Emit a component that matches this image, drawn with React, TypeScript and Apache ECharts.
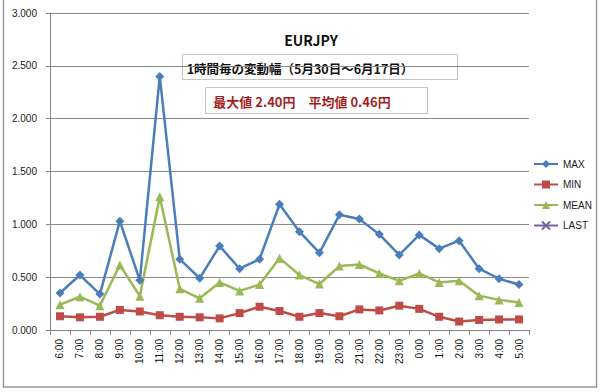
import React, { useEffect, useRef } from "react";
import * as echarts from "echarts";

const hours = ["6:00","7:00","8:00","9:00","10:00","11:00","12:00","13:00","14:00","15:00","16:00","17:00","18:00","19:00","20:00","21:00","22:00","23:00","0:00","1:00","2:00","3:00","4:00","5:00"];
const maxVals = [0.35,0.52,0.34,1.03,0.47,2.40,0.67,0.49,0.795,0.58,0.67,1.19,0.93,0.73,1.09,1.05,0.905,0.71,0.90,0.77,0.845,0.58,0.485,0.43];
const minVals = [0.13,0.12,0.125,0.19,0.175,0.14,0.125,0.12,0.11,0.16,0.22,0.18,0.125,0.16,0.13,0.195,0.185,0.23,0.20,0.125,0.08,0.095,0.10,0.10];
const meanVals = [0.24,0.315,0.23,0.615,0.32,1.26,0.39,0.30,0.45,0.37,0.43,0.68,0.52,0.435,0.605,0.62,0.535,0.465,0.535,0.45,0.465,0.325,0.285,0.26];
const lastVals: (number | null)[] = [];
const yTicks = { min: 0, max: 3, interval: 0.5 };

const titleText = "EURJPY";
const subText = "1時間毎の変動幅（5月30日～6月17日）";
const statText = "最大値 2.40円　平均値 0.46円";

const FONT = "'Noto Sans CJK JP', 'Noto Sans', sans-serif";
const LFONT = "'Liberation Sans', Arial, sans-serif";

export default function App() {
  const ref = useRef<HTMLDivElement>(null);
  useEffect(() => {
    if (!ref.current) return;
    const chart = echarts.init(ref.current, null, { renderer: "svg" });
    const mk = (name: string, data: (number | null)[], color: string, symbol: string, size: number) => ({
      name,
      type: "line",
      data,
      symbol,
      symbolSize: size,
      showAllSymbol: true,
      lineStyle: { color, width: 2.5 },
      itemStyle: { color, borderColor: color, borderWidth: symbol.startsWith("path") ? 1.5 : 0 },
    });
    chart.setOption({
      animation: false,
      backgroundColor: "#ffffff",
      textStyle: { fontFamily: FONT },
      grid: { left: 50, right: 71, top: 13, bottom: 62, containLabel: false },
      legend: {
        orient: "vertical",
        left: 528,
        top: 154,
        itemWidth: 24,
        itemHeight: 10,
        itemGap: 10.5,
        textStyle: { fontSize: 10, color: "#222", fontFamily: LFONT },
        data: ["MAX", "MIN", "MEAN", "LAST"],
      },
      xAxis: {
        type: "category",
        data: hours,
        boundaryGap: true,
        axisLine: { lineStyle: { color: "#868686", width: 1 } },
        axisTick: { show: true, length: 5, lineStyle: { color: "#868686" } },
        axisLabel: { rotate: 90, fontSize: 10, color: "#111", margin: 9, interval: 0, fontFamily: LFONT },
      },
      yAxis: {
        type: "value",
        min: yTicks.min,
        max: yTicks.max,
        interval: yTicks.interval,
        axisLine: { show: true, lineStyle: { color: "#868686", width: 1 } },
        axisTick: { show: true, length: 4, lineStyle: { color: "#868686" } },
        splitLine: { lineStyle: { color: "#8a8a8a", width: 1 } },
        axisLabel: {
          fontSize: 10,
          color: "#222",
          margin: 13,
          fontFamily: LFONT,
          formatter: (v: number) => v.toFixed(3),
        },
      },
      series: [
        mk("MAX", maxVals, "#4A7EBB", "diamond", 9),
        mk("MIN", minVals, "#BE4B48", "rect", 8),
        mk("MEAN", meanVals, "#98B954", "triangle", 9),
        mk("LAST", lastVals, "#7D60A0", "path://M0,0L10,10M10,0L0,10", 8),
      ],
      graphic: [
        {
          type: "rect",
          shape: { x: 3.5, y: -2, width: 593, height: 389 },
          style: { fill: "none", stroke: "#9a9a9a", lineWidth: 1.5 },
          silent: true,
        },
        {
          type: "text",
          x: 311,
          y: 40,
          style: { text: titleText, fontSize: 14, fontWeight: "bold", fill: "#111", align: "center", verticalAlign: "middle", fontFamily: FONT },
        },
        {
          type: "rect",
          shape: { x: 182.5, y: 54.5, width: 275, height: 25 },
          style: { fill: "none", stroke: "#c4c4c4", lineWidth: 1 },
        },
        {
          type: "text",
          x: 300,
          y: 68,
          style: { text: subText, fontSize: 12.5, fontWeight: "bold", fill: "#111", align: "center", verticalAlign: "middle", fontFamily: FONT },
        },
        {
          type: "rect",
          shape: { x: 205.5, y: 87.5, width: 222, height: 26 },
          style: { fill: "none", stroke: "#c4c4c4", lineWidth: 1 },
        },
        {
          type: "text",
          x: 302,
          y: 101,
          style: { text: statText, fontSize: 13, fontWeight: "bold", fill: "#A31F1F", align: "center", verticalAlign: "middle", fontFamily: FONT },
        },
      ],
    });
    return () => chart.dispose();
  }, []);
  return (
    <div
      ref={ref}
      style={{ position: "fixed", left: 0, top: 0, width: 600, height: 392, background: "#fff" }}
    />
  );
}
